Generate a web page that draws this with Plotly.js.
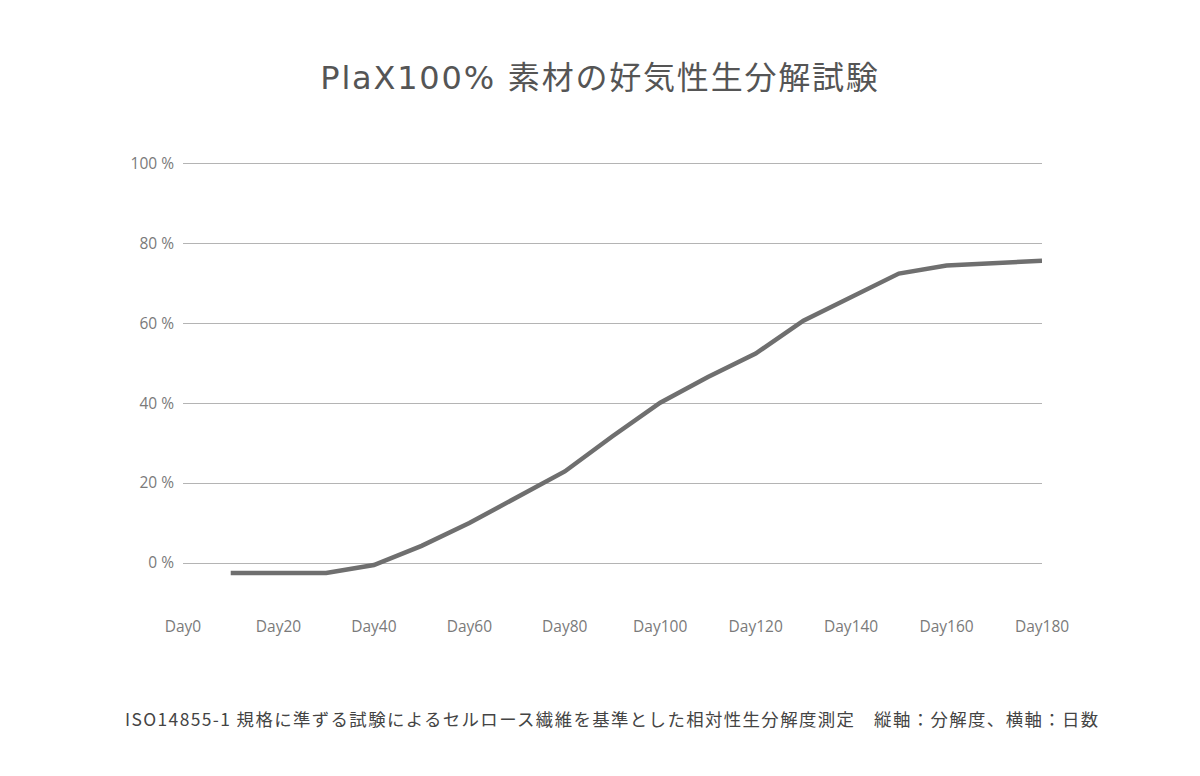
<!DOCTYPE html>
<html lang="ja">
<head>
<meta charset="utf-8">
<title>PlaX100% 素材の好気性生分解試験</title>
<script src="https://cdn.plot.ly/plotly-3.0.1.min.js"></script>
<style>
  html, body { margin: 0; padding: 0; background: #ffffff; }
  #chart { width: 1200px; height: 776px; }
  .gtitle { letter-spacing: 1.8px; }
  .annotation-text { letter-spacing: 1.4px; }
</style>
</head>
<body>
<div id="chart"></div>
<script>
// Measurement days (every 10 days) and relative biodegradation in percent
const days = [10, 20, 30, 40, 50, 60, 70, 80, 90, 100, 110, 120, 130, 140, 150, 160, 170, 180];
const degradation = [-2.5, -2.5, -2.5, -0.5, 4.3, 10, 16.6, 22.9, 31.7, 40.1, 46.5, 52.4, 60.6, 66.5, 72.4, 74.4, 75.1, 75.6];

// Axis ticks
const dayTicks = [0, 20, 40, 60, 80, 100, 120, 140, 160, 180];
const dayTickLabels = ['Day0', 'Day20', 'Day40', 'Day60', 'Day80', 'Day100', 'Day120', 'Day140', 'Day160', 'Day180'];
const percentTicks = [0, 20, 40, 60, 80, 100];
const percentTickLabels = ['0 %', '20 %', '40 %', '60 %', '80 %', '100 %'];

const chartTitle = 'PlaX100% 素材の好気性生分解試験';
const footNote = 'ISO14855-1 規格に準ずる試験によるセルロース繊維を基準とした相対性生分解度測定　縦軸：分解度、横軸：日数';

const tickFont = { family: '"Open Sans", "Noto Sans", sans-serif', size: 15.5, color: '#7a7a7a' };
const jpFont = '"Noto Sans CJK JP", "Noto Sans", sans-serif';

const trace = {
  type: 'scatter',
  mode: 'lines',
  x: days,
  y: degradation,
  line: { color: '#6f6f6f', width: 4.5 },
  hoverinfo: 'x+y'
};

const layout = {
  width: 1200,
  height: 776,
  paper_bgcolor: '#ffffff',
  plot_bgcolor: '#ffffff',
  showlegend: false,
  margin: { l: 183, r: 158, t: 162, b: 167 },
  title: {
    text: chartTitle,
    font: { family: '"DejaVu Sans", "Noto Sans CJK JP", sans-serif', size: 32, color: '#555555' },
    x: 0.5,
    xanchor: 'center',
    y: 0.9,
    yanchor: 'middle'
  },
  xaxis: {
    range: [0, 180],
    tickvals: dayTicks,
    ticktext: dayTickLabels,
    tickfont: tickFont,
    showgrid: false,
    zeroline: false,
    showline: false,
    ticks: '',
    ticklabelstandoff: 6,
    fixedrange: true
  },
  yaxis: {
    range: [-11.5, 100.3],
    tickvals: percentTicks,
    ticktext: percentTickLabels,
    tickfont: tickFont,
    showgrid: true,
    gridcolor: '#b4b4b4',
    gridwidth: 1,
    zeroline: false,
    showline: false,
    ticks: '',
    ticklabelstandoff: 8,
    fixedrange: true
  },
  annotations: [{
    text: footNote,
    xref: 'paper',
    yref: 'paper',
    x: 0.5,
    xanchor: 'center',
    y: -0.245,
    yanchor: 'middle',
    showarrow: false,
    font: { family: jpFont, size: 17.4, color: '#444444' }
  }]
};

Plotly.newPlot('chart', [trace], layout, { displayModeBar: false, staticPlot: true });
</script>
</body>
</html>
